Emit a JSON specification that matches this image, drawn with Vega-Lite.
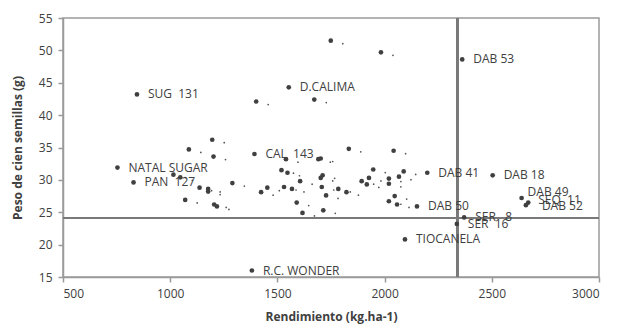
{
  "$schema": "https://vega.github.io/schema/vega-lite/v6.json",
  "width": 536,
  "height": 259,
  "autosize": {"type": "none"},
  "padding": {"left": 63, "top": 18, "right": 20, "bottom": 52},
  "background": "white",
  "config": {
    "font": "Open Sans",
    "view": {"stroke": "#9a9a9a", "strokeWidth": 1.5},
    "axis": {
      "grid": false,
      "domainColor": "#9a9a9a",
      "domainWidth": 1.5,
      "tickColor": "#9a9a9a",
      "tickWidth": 1.5,
      "labelColor": "#404040",
      "labelFontSize": 12,
      "labelFont": "Open Sans",
      "titleColor": "#404040",
      "titleFont": "Open Sans",
      "titleFontSize": 12,
      "titleFontWeight": "bold"
    }
  },
  "data": {
    "values": [
      {"rend": 754, "peso": 31.9, "label": "NATAL SUGAR"},
      {"rend": 829, "peso": 29.6, "label": "PAN\u00a0\u00a0127"},
      {"rend": 845, "peso": 43.2, "label": "SUG\u00a0\u00a0131"},
      {"rend": 1553, "peso": 44.3, "label": "D.CALIMA"},
      {"rend": 1393, "peso": 34.0, "label": "CAL\u00a0\u00a0143"},
      {"rend": 1381, "peso": 16.0, "label": "R.C. WONDER"},
      {"rend": 2362, "peso": 48.6, "label": "DAB 53"},
      {"rend": 2199, "peso": 31.1, "label": "DAB 41"},
      {"rend": 2504, "peso": 30.7, "label": "DAB 18"},
      {"rend": 2151, "peso": 25.9, "label": "DAB 50"},
      {"rend": 2095, "peso": 20.8, "label": "TIOCANELA"},
      {"rend": 2371, "peso": 24.2, "label": "SER\u00a0\u00a0\u00a08"},
      {"rend": 2337, "peso": 23.2, "label": "SER\u00a0\u00a016"},
      {"rend": 2639, "peso": 27.2, "label": "DAB 49"},
      {"rend": 2670, "peso": 26.5, "label": "SEQ\u00a0\u00a011"},
      {"rend": 2659, "peso": 26.1, "label": "DAB 52"},
      {"rend": 1015, "peso": 30.8, "label": ""},
      {"rend": 1047, "peso": 30.4, "label": ""},
      {"rend": 1196, "peso": 36.2, "label": ""},
      {"rend": 1087, "peso": 34.7, "label": ""},
      {"rend": 1202, "peso": 33.6, "label": ""},
      {"rend": 1290, "peso": 29.5, "label": ""},
      {"rend": 1137, "peso": 28.8, "label": ""},
      {"rend": 1177, "peso": 28.6, "label": ""},
      {"rend": 1177, "peso": 28.2, "label": ""},
      {"rend": 1070, "peso": 26.9, "label": ""},
      {"rend": 1205, "peso": 26.2, "label": ""},
      {"rend": 1218, "peso": 25.9, "label": ""},
      {"rend": 1540, "peso": 33.2, "label": ""},
      {"rend": 1691, "peso": 33.2, "label": ""},
      {"rend": 1702, "peso": 33.3, "label": ""},
      {"rend": 1519, "peso": 31.5, "label": ""},
      {"rend": 1547, "peso": 31.1, "label": ""},
      {"rend": 1606, "peso": 29.8, "label": ""},
      {"rend": 1702, "peso": 30.3, "label": ""},
      {"rend": 1711, "peso": 30.7, "label": ""},
      {"rend": 1453, "peso": 28.8, "label": ""},
      {"rend": 1424, "peso": 28.1, "label": ""},
      {"rend": 1531, "peso": 28.9, "label": ""},
      {"rend": 1568, "peso": 28.6, "label": ""},
      {"rend": 1707, "peso": 28.9, "label": ""},
      {"rend": 1727, "peso": 27.6, "label": ""},
      {"rend": 1590, "peso": 26.5, "label": ""},
      {"rend": 1714, "peso": 25.3, "label": ""},
      {"rend": 1617, "peso": 24.9, "label": ""},
      {"rend": 1833, "peso": 34.8, "label": ""},
      {"rend": 2042, "peso": 34.5, "label": ""},
      {"rend": 1947, "peso": 31.6, "label": ""},
      {"rend": 1927, "peso": 30.3, "label": ""},
      {"rend": 1893, "peso": 29.8, "label": ""},
      {"rend": 1917, "peso": 29.3, "label": ""},
      {"rend": 2020, "peso": 30.2, "label": ""},
      {"rend": 2020, "peso": 29.4, "label": ""},
      {"rend": 2067, "peso": 30.5, "label": ""},
      {"rend": 2089, "peso": 31.3, "label": ""},
      {"rend": 1784, "peso": 28.6, "label": ""},
      {"rend": 1822, "peso": 28.1, "label": ""},
      {"rend": 2047, "peso": 27.5, "label": ""},
      {"rend": 2020, "peso": 26.7, "label": ""},
      {"rend": 2058, "peso": 26.2, "label": ""},
      {"rend": 1749, "peso": 51.5, "label": ""},
      {"rend": 1983, "peso": 49.7, "label": ""},
      {"rend": 1672, "peso": 42.4, "label": ""},
      {"rend": 1401, "peso": 42.1, "label": ""}
    ]
  },
  "encoding": {
    "x": {
      "field": "rend",
      "type": "quantitative",
      "scale": {"domain": [500, 3000], "nice": false, "zero": false},
      "axis": {"values": [500, 1000, 1500, 2000, 2500, 3000], "format": "d", "title": "Rendimiento (kg.ha-1)", "tickSize": 5, "labelPadding": 6, "titlePadding": 12}
    },
    "y": {
      "field": "peso",
      "type": "quantitative",
      "scale": {"domain": [15, 55], "nice": false, "zero": false},
      "axis": {"values": [15, 20, 25, 30, 35, 40, 45, 50, 55], "format": "d", "title": "Peso de cien semillas (g)", "tickSize": 5, "labelPadding": 6, "titlePadding": 14}
    }
  },
  "layer": [
    {
      "mark": {"type": "rule", "color": "#7a7a7a", "strokeWidth": 1.5},
      "encoding": {"x": {"datum": 2340}, "y": {"datum": 15}, "y2": {"datum": 55}}
    },
    {
      "mark": {"type": "rule", "color": "#7a7a7a", "strokeWidth": 1.5},
      "encoding": {"y": {"datum": 24.1}, "x": {"datum": 500}, "x2": {"datum": 3000}}
    },
    {
      "transform": [{"filter": "datum.label == ''"}],
      "mark": {"type": "point", "shape": "circle", "filled": true, "size": 3, "color": "#555555", "opacity": 1, "xOffset": 12, "yOffset": 3}
    },
    {
      "mark": {"type": "point", "shape": "circle", "filled": true, "size": 22, "color": "#404040", "opacity": 1}
    },
    {
      "transform": [{"filter": "datum.label != '' && datum.label != 'DAB 49' && datum.rend != 2670 && datum.label != 'DAB 52'"}],
      "mark": {"type": "text", "align": "left", "baseline": "middle", "dx": 11, "fontSize": 12, "color": "#404040", "font": "Open Sans"},
      "encoding": {"text": {"field": "label"}}
    },
    {
      "transform": [{"filter": "datum.label == 'DAB 49'"}],
      "mark": {"type": "text", "align": "left", "baseline": "middle", "dx": 6, "dy": -6, "fontSize": 12, "color": "#404040", "font": "Open Sans"},
      "encoding": {"text": {"field": "label"}}
    },
    {
      "transform": [{"filter": "datum.rend == 2670"}],
      "mark": {"type": "text", "align": "left", "baseline": "middle", "dx": 10, "dy": -3, "fontSize": 12, "color": "#404040", "font": "Open Sans"},
      "encoding": {"text": {"field": "label"}}
    },
    {
      "transform": [{"filter": "datum.label == 'DAB 52'"}],
      "mark": {"type": "text", "align": "left", "baseline": "middle", "dx": 16, "dy": 1, "fontSize": 12, "color": "#404040", "font": "Open Sans"},
      "encoding": {"text": {"field": "label"}}
    }
  ]
}
